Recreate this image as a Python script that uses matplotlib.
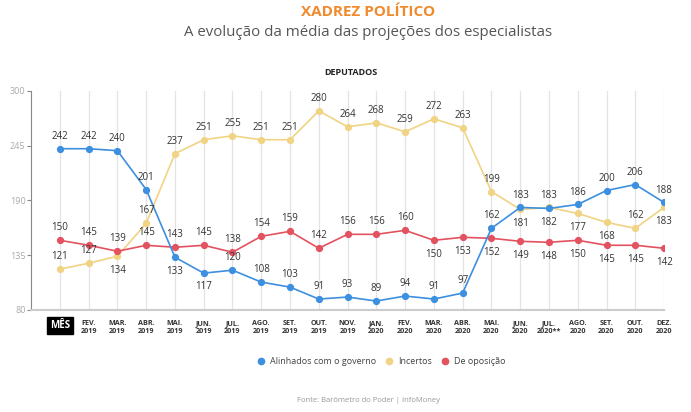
import matplotlib.pyplot as plt
from matplotlib.lines import Line2D

plt.rcParams['font.family'] = ['Open Sans', 'DejaVu Sans']

# Dados
meses = ['MÊS', 'FEV.\n2019', 'MAR.\n2019', 'ABR.\n2019', 'MAI.\n2019', 'JUN.\n2019',
         'JUL.\n2019', 'AGO.\n2019', 'SET.\n2019', 'OUT.\n2019', 'NOV.\n2019',
         'JAN.\n2020', 'FEV.\n2020', 'MAR.\n2020', 'ABR.\n2020', 'MAI.\n2020',
         'JUN.\n2020', 'JUL.\n2020**', 'AGO.\n2020', 'SET.\n2020', 'OUT.\n2020', 'DEZ.\n2020']
alinhados = [242, 242, 240, 201, 133, 117, 120, 108, 103, 91, 93,
             89, 94, 91, 97, 162, 183, 182, 186, 200, 206, 188]
incertos = [121, 127, 134, 167, 237, 251, 255, 251, 251, 280, 264,
            268, 259, 272, 263, 199, 181, 183, 177, 168, 162, 183]
oposicao = [150, 145, 139, 145, 143, 145, 138, 154, 159, 142, 156,
            156, 160, 150, 153, 152, 149, 148, 150, 145, 145, 142]

# posição dos rótulos: 1 acima, -1 abaixo
pos_alinhados = [1, 1, 1, 1, -1, -1, 1, 1, 1, 1, 1, 1, 1, 1, 1, 1, 1, -1, 1, 1, 1, 1]
pos_incertos = [1, 1, -1, 1, 1, 1, 1, 1, 1, 1, 1, 1, 1, 1, 1, 1, -1, 1, -1, -1, 1, -1]
pos_oposicao = [1] * 13 + [-1] * 9

azul = '#3d8fe0'
amarelo = '#f0d383'
vermelho = '#e2525f'

fig = plt.figure(figsize=(6.91, 4.12), dpi=100)
ax = fig.add_axes([0.045, 0.2476, 0.916, 0.5316])

x = list(range(len(meses)))
for serie, pos, cor in [(incertos, pos_incertos, amarelo),
                        (oposicao, pos_oposicao, vermelho),
                        (alinhados, pos_alinhados, azul)]:
    ax.plot(x, serie, color=cor, lw=1.2, marker='o', ms=4.2, zorder=3)
    for xi, v, p in zip(x, serie, pos):
        ax.annotate(str(v), (xi, v), xytext=(0, 5 if p > 0 else -6),
                    textcoords='offset points', ha='center',
                    va='bottom' if p > 0 else 'top', fontsize=7, color='#333333', zorder=4)

ax.set_xlim(-1, 21)
ax.set_ylim(80, 300)
ax.set_yticks([80, 135, 190, 245, 300])
ax.set_xticks(x)
ax.set_xticklabels(meses, fontsize=5.2, fontweight='bold', color='#333333', linespacing=1.3)
ax.tick_params(axis='x', length=0, pad=7)
ax.tick_params(axis='y', labelsize=6.5, labelcolor='#aaaaaa', color='#888888', length=3, pad=1)
ax.grid(axis='x', color='#e3e3e3', lw=0.9, zorder=0)
for s in ['top', 'right']:
    ax.spines[s].set_visible(False)
ax.spines['left'].set_color('#888888')
ax.spines['bottom'].set_color('#cccccc')
ax.spines['bottom'].set_linewidth(1.5)

lbl = ax.get_xticklabels()[0]
lbl.set_color('white')
lbl.set_fontsize(7)
lbl.set_bbox(dict(facecolor='black', edgecolor='black', pad=2))

fig.text(0.533, 0.97, 'XADREZ POLÍTICO', ha='center', va='center', fontsize=11,
         fontweight='bold', color='#f08a2d')
fig.text(0.533, 0.922, 'A evolução da média das projeções dos especialistas', ha='center',
         va='center', fontsize=10.8, color='#555555')
fig.text(0.508, 0.825, 'DEPUTADOS', ha='center', va='center', fontsize=6.5,
         fontweight='bold', color='#222222')

handles = [Line2D([], [], marker='o', ls='', color=c, ms=4.5) for c in [azul, amarelo, vermelho]]
fig.legend(handles, ['Alinhados com o governo', 'Incertos', 'De oposição'],
           loc='center', bbox_to_anchor=(0.548, 0.123), ncol=3, frameon=False,
           fontsize=6.5, handletextpad=0.0, columnspacing=0.4, labelcolor='#444444')
fig.text(0.533, 0.027, 'Fonte: Barômetro do Poder | InfoMoney', ha='center', va='center',
         fontsize=5.5, color='#999999')

fig.savefig('out.png', dpi=100)
